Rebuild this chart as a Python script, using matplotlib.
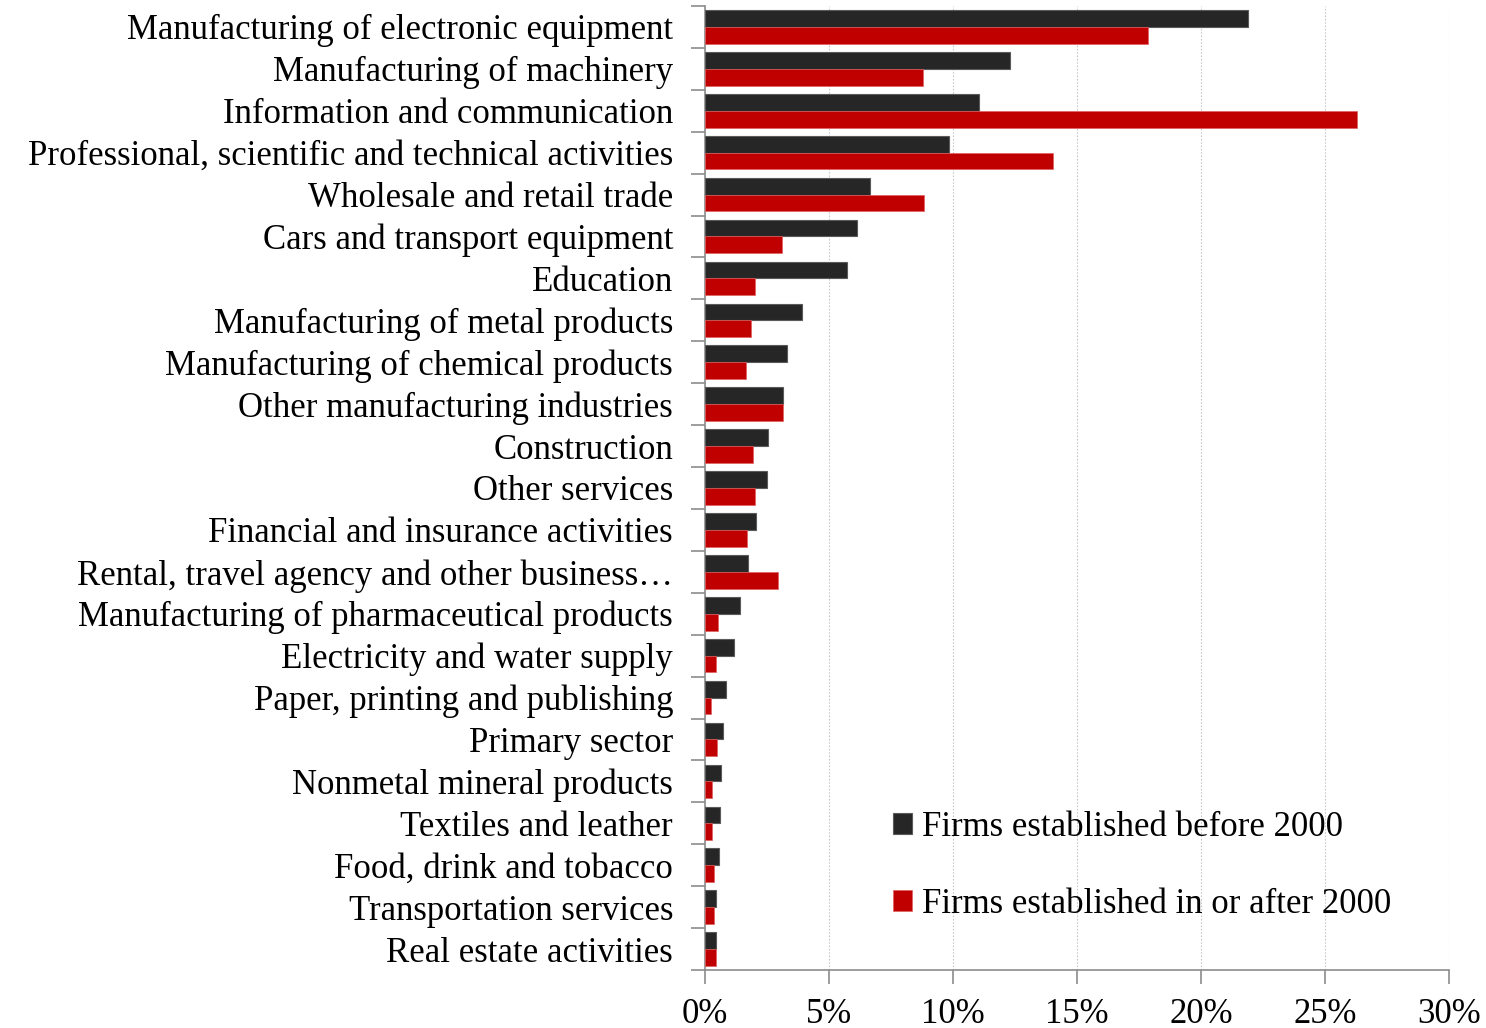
import numpy as np
import matplotlib
matplotlib.use("Agg")
import matplotlib.pyplot as plt
from matplotlib.ticker import FixedLocator, FuncFormatter

# sectors, top to bottom
sectors = [
    "Manufacturing of electronic equipment",
    "Manufacturing of machinery",
    "Information and communication",
    "Professional, scientific and technical activities",
    "Wholesale and retail trade",
    "Cars and transport equipment",
    "Education",
    "Manufacturing of metal products",
    "Manufacturing of chemical products",
    "Other manufacturing industries",
    "Construction",
    "Other services",
    "Financial and insurance activities",
    "Rental, travel agency and other business\u2026",
    "Manufacturing of pharmaceutical products",
    "Electricity and water supply",
    "Paper, printing and publishing",
    "Primary sector",
    "Nonmetal mineral products",
    "Textiles and leather",
    "Food, drink and tobacco",
    "Transportation services",
    "Real estate activities",
]
# share of firms (%)
before_2000 = [21.9, 12.3, 11.05, 9.85, 6.65, 6.12, 5.72, 3.9, 3.3, 3.15, 2.55,
               2.5, 2.05, 1.72, 1.42, 1.17, 0.85, 0.73, 0.65, 0.6, 0.57, 0.44, 0.44]
after_2000 = [17.85, 8.8, 26.3, 14.05, 8.85, 3.1, 2.0, 1.85, 1.65, 3.15, 1.95,
              2.0, 1.7, 2.95, 0.52, 0.44, 0.25, 0.48, 0.27, 0.3, 0.37, 0.37, 0.44]

DARK = "#262626"
RED = "#C00000"
GRAY = "#8c8c8c"
FS = 25

plt.rcParams["font.family"] = ["Liberation Serif", "DejaVu Serif"]

fig = plt.figure(figsize=(14.86, 10.28), dpi=100)
ax = fig.add_axes([0.4744, 0.0564, 0.5007, 0.9378])

y = np.arange(len(sectors))
h = 0.4
ax.barh(y - h / 2, before_2000, height=h, color=DARK, edgecolor="#5a5a5a",
        linewidth=0.8, label="Firms established before 2000", zorder=3)
ax.barh(y + h / 2, after_2000, height=h, color=RED, edgecolor="#e06060",
        linewidth=0.5, label="Firms established in or after 2000", zorder=3)

ax.set_ylim(len(sectors) - 0.5, -0.5)
ax.set_xlim(0, 30)

ax.set_yticks(y)
ax.set_yticklabels(sectors, fontsize=FS)
ax.yaxis.set_minor_locator(FixedLocator(np.arange(-0.5, len(sectors), 1)))
ax.tick_params(axis="y", which="major", length=0, pad=23)
ax.tick_params(axis="y", which="minor", length=10, color=GRAY, width=1.2)

ax.set_xticks(np.arange(0, 31, 5))
ax.xaxis.set_major_formatter(FuncFormatter(lambda v, p: f"{v:.0f}%"))
ax.tick_params(axis="x", length=10, color=GRAY, width=1.2, labelsize=FS, pad=10)

ax.grid(axis="x", color="#c8c8c8", linestyle=(0, (1.5, 1.5)), linewidth=0.8, zorder=0)
for side in ["top", "right"]:
    ax.spines[side].set_visible(False)
for side in ["left", "bottom"]:
    ax.spines[side].set_color(GRAY)
    ax.spines[side].set_linewidth(1.2)

ax.legend(loc="center left", bbox_to_anchor=(0.2527, 0.108), frameon=False,
          fontsize=FS, handlelength=0.55, handleheight=0.55, handletextpad=0.3,
          labelspacing=1.27, borderaxespad=0, borderpad=0)

fig.savefig("out.png", dpi=100)
